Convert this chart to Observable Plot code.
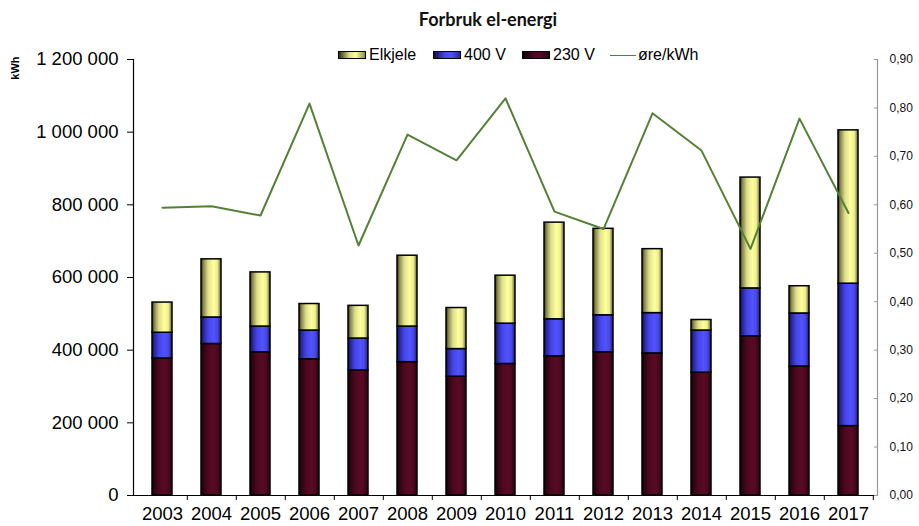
<!DOCTYPE html>
<html><head><meta charset="utf-8">
<script src="https://cdn.jsdelivr.net/npm/d3@7"></script>
<script src="https://cdn.jsdelivr.net/npm/@observablehq/plot@0.6"></script>
<style>
body{margin:0;background:#fff;font-family:"Liberation Sans",Arial,sans-serif;}
#wrap{position:relative;width:919px;height:526px;overflow:hidden;}
#title{position:absolute;left:338px;width:300px;top:8px;text-align:center;font:700 18px Lato,"Open Sans",sans-serif;color:#111;}
#ylab{position:absolute;left:-5px;top:62px;width:40px;text-align:center;font:700 11px "Liberation Sans",Arial,sans-serif;transform:rotate(-90deg);}
#legend{position:absolute;top:46px;left:338px;font:16px "Liberation Sans",Arial,sans-serif;white-space:nowrap;}
.item{position:absolute;top:0;display:flex;align-items:center;height:18px;}
.sw{width:26px;height:6px;border:1px solid #000;margin-right:3px;}
.ln{width:26px;height:0;border-top:1.5px solid #538135;margin-right:2px;}
#wrap svg{position:absolute;left:0;top:0;}
</style></head>
<body><div id="wrap">
<div id="title">Forbruk el-energi</div>
<div id="ylab">kWh</div>
<div id="legend"></div>
</div>
<script>
const years = ["2003","2004","2005","2006","2007","2008","2009","2010","2011","2012","2013","2014","2015","2016","2017"];
const v230 = [377000,417000,394000,375000,344000,367000,327000,362000,383000,394000,391000,338000,438000,355000,191000];
const v400 = [71000,73000,71000,79000,88000,98000,76000,111000,102000,102000,111000,116000,132000,146000,392000];
const elkjele = [83000,160000,149000,73000,90000,195000,113000,132000,266000,238000,176000,29000,305000,75000,422000];
const ore = [0.594,0.597,0.578,0.809,0.516,0.745,0.692,0.820,0.586,0.550,0.789,0.712,0.509,0.778,0.583];
const seriesNames = ["230 V","400 V","Elkjele"];
const leftTicks = [0,200000,400000,600000,800000,1000000,1200000];
const rightTicks = [0,0.1,0.2,0.3,0.4,0.5,0.6,0.7,0.8,0.9];

const K = 1200000/0.9;
const rows = years.flatMap((y,i)=>[
  {year:y, series:"230 V", value:v230[i]},
  {year:y, series:"400 V", value:v400[i]},
  {year:y, series:"Elkjele", value:elkjele[i]}
]);
const lineData = years.map((y,i)=>({year:y, v: ore[i]*K}));
const loc = d3.formatLocale({decimal:",", thousands:" ", grouping:[3], currency:["",""]});
const fmt = loc.format(",d");

const grads = [
  ["gElk", [[0,"#2e2e08"],[0.12,"#86864a"],[0.35,"#dede8e"],[0.62,"#ffff9c"],[0.82,"#eeee8e"],[1,"#5e5e30"]]],
  ["g400", [[0,"#0e0e40"],[0.12,"#26269a"],[0.35,"#4444e6"],[0.62,"#5252ff"],[0.82,"#4848e8"],[1,"#1c1c70"]]],
  ["g230", [[0,"#0c0004"],[0.12,"#2c0412"],[0.35,"#4c081e"],[0.62,"#580a24"],[0.82,"#4e081f"],[1,"#22020c"]]]
];
function defsMark(){
  const ns="http://www.w3.org/2000/svg";
  const defs=document.createElementNS(ns,"defs");
  for (const [id,stops] of grads){
    const g=document.createElementNS(ns,"linearGradient");
    g.setAttribute("id",id);g.setAttribute("x1","0");g.setAttribute("x2","1");g.setAttribute("y1","0");g.setAttribute("y2","0");
    for (const [o,c] of stops){const s=document.createElementNS(ns,"stop");s.setAttribute("offset",o);s.setAttribute("stop-color",c);g.appendChild(s);}
    defs.appendChild(g);
  }
  return defs;
}
const step = (919-133-42)/years.length;

const plot = Plot.plot({
  width:919, height:526, marginTop:59, marginBottom:31, marginLeft:133, marginRight:42,
  style:{fontFamily:"'Liberation Sans', Arial, sans-serif", background:"transparent", color:"#000"},
  x:{domain:years, paddingInner:0.6, paddingOuter:0.3, label:null},
  y:{domain:[0,1200000], label:null},
  color:{domain:seriesNames, range:["url(#g230)","url(#g400)","url(#gElk)"]},
  marks:[
    defsMark,
    Plot.barY(rows,{x:"year", y:"value", fill:"series", stroke:"#000", strokeWidth:1.5}),
    Plot.line(lineData,{x:"year", y:"v", stroke:"#538135", strokeWidth:2}),
    Plot.ruleY([0],{stroke:"#000", strokeWidth:1.2}),
    Plot.frame({anchor:"left", stroke:"#000", strokeWidth:1.2}),
    Plot.frame({anchor:"right", stroke:"#999", strokeWidth:1.2}),
    Plot.axisY(leftTicks,{anchor:"left", tickFormat:fmt, tickSize:6, tickPadding:9, fontSize:18.5, label:null, stroke:"#000"}),
    Plot.axisY(rightTicks.map(v=>v*K),{anchor:"right", tickFormat:d=>(d/K).toFixed(2).replace(".",","), tickSize:4, dx:-4, tickPadding:12, fontSize:12, label:null, stroke:"#999", fill:"#111"}),
    Plot.axisX({anchor:"bottom", tickSize:5, tickFormat:()=>"", dx:step/2, label:null, stroke:"#000"}),
    Plot.axisX({anchor:"bottom", tickSize:0, tickPadding:11, fontSize:18.5, label:null})
  ]
});
document.getElementById("wrap").prepend(plot);

const legendItems = [
  {name:"Elkjele", left:0, bg:"linear-gradient(to right,#2e2e08,#dede8e 40%,#ffff9c 65%,#8a8a50)"},
  {name:"400 V", left:95, bg:"linear-gradient(to right,#0e0e40,#4444e6 40%,#5252ff 65%,#26269a)"},
  {name:"230 V", left:184, bg:"linear-gradient(to right,#0c0004,#4c081e 40%,#580a24 65%,#2c0412)"},
  {name:"øre/kWh", left:272, line:true}
];
const lg=document.getElementById("legend");
for (const it of legendItems){
  const d=document.createElement("div");d.className="item";d.style.left=it.left+"px";
  const s=document.createElement("span");
  if(it.line){s.className="ln";}else{s.className="sw";s.style.background=it.bg;}
  d.appendChild(s);
  const t=document.createElement("span");t.textContent=it.name;d.appendChild(t);
  lg.appendChild(d);
}
</script>
</body></html>
